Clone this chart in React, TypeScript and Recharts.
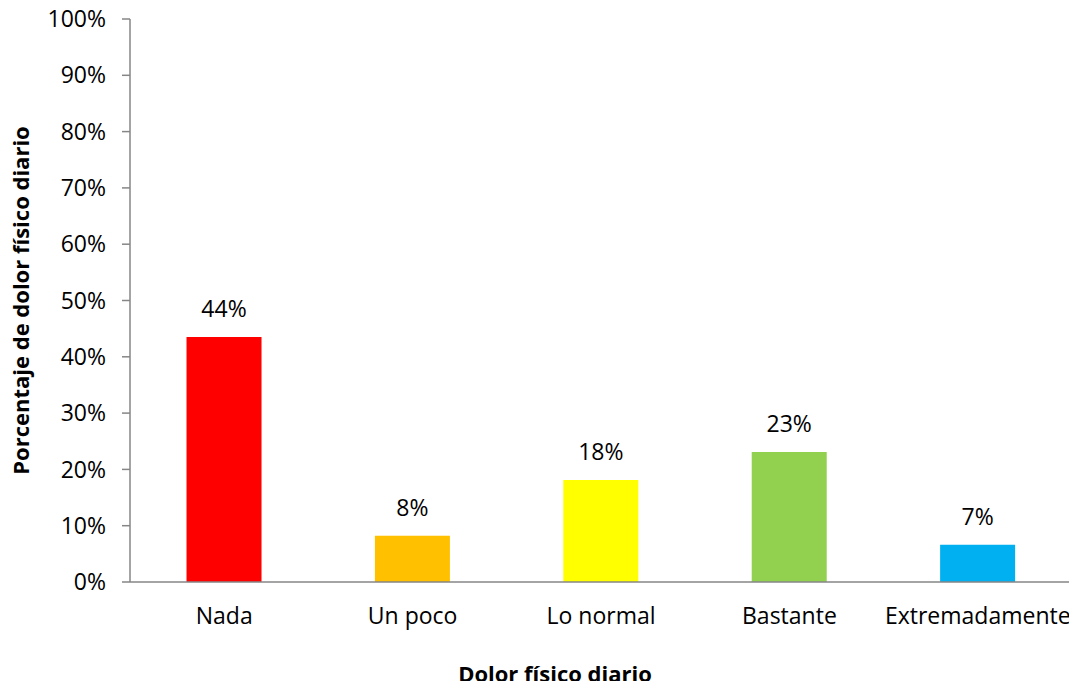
import { Bar, BarChart, Cell, LabelList, XAxis, YAxis } from "recharts";

const categorias = ["Nada", "Un poco", "Lo normal", "Bastante", "Extremadamente"];
const porcentajes = [43.5, 8.2, 18.1, 23.1, 6.6];
const etiquetas = ["44%", "8%", "18%", "23%", "7%"];
const yTicks = [0, 10, 20, 30, 40, 50, 60, 70, 80, 90, 100];
const limites = [0, 1, 2, 3, 4, 5];

const COLORS = ["#ff0000", "#ffc000", "#ffff00", "#92d050", "#00b0f0"];
const AXIS = "#868686";
const FONT = "'Open Sans', sans-serif";

const data = categorias.map((name, i) => ({ name, valor: porcentajes[i], etiqueta: etiquetas[i] }));

function YTitle({ viewBox }: any) {
  const cx = 20;
  const cy = viewBox.y + viewBox.height / 2;
  return (
    <text
      x={cx}
      y={cy}
      transform={`rotate(-90, ${cx}, ${cy})`}
      textAnchor="middle"
      dominantBaseline="central"
      fontFamily={FONT}
      fontWeight="bold"
      fontSize={22}
      fill="#000"
    >
      Porcentaje de dolor físico diario
    </text>
  );
}

function XTitle() {
  return (
    <text x={555} y={682} textAnchor="middle" fontFamily={FONT} fontWeight="bold" fontSize={22} fill="#000">
      Dolor físico diario
    </text>
  );
}

export default function App() {
  return (
    <div style={{ width: 1077, height: 689, margin: -8, background: "#fff" }}>
      <BarChart
        width={1077}
        height={689}
        data={data}
        margin={{ top: 19, right: 5, left: 0, bottom: 0 }}
        barCategoryGap="30%"
      >
        <XAxis
          xAxisId="lim"
          type="number"
          domain={[0, 5]}
          ticks={limites}
          height={0}
          tick={false}
          axisLine={false}
          tickLine={{ stroke: AXIS, strokeWidth: 1.5 }}
          tickSize={9}
        />
        <XAxis
          xAxisId="cat"
          dataKey="name"
          height={107}
          tickLine={false}
          axisLine={{ stroke: AXIS, strokeWidth: 1.5 }}
          tickMargin={20}
          tick={{ fill: "#000", fontSize: 23, fontFamily: FONT }}
          interval={0}
          label={<XTitle />}
        />
        <YAxis
          width={130}
          domain={[0, 100]}
          ticks={yTicks}
          interval={0}
          tickFormatter={(v) => `${v}%`}
          tickSize={8}
          tickMargin={16}
          axisLine={{ stroke: AXIS, strokeWidth: 1.5 }}
          tickLine={{ stroke: AXIS, strokeWidth: 1.5 }}
          tick={{ fill: "#000", fontSize: 23, fontFamily: FONT }}
          label={<YTitle />}
        />
        <Bar dataKey="valor" xAxisId="cat" isAnimationActive={false}>
          {data.map((_, i) => (
            <Cell key={i} fill={COLORS[i]} />
          ))}
          <LabelList
            dataKey="etiqueta"
            position="top"
            offset={20}
            fill="#000"
            fontSize={23}
            fontFamily={FONT}
          />
        </Bar>
      </BarChart>
    </div>
  );
}
